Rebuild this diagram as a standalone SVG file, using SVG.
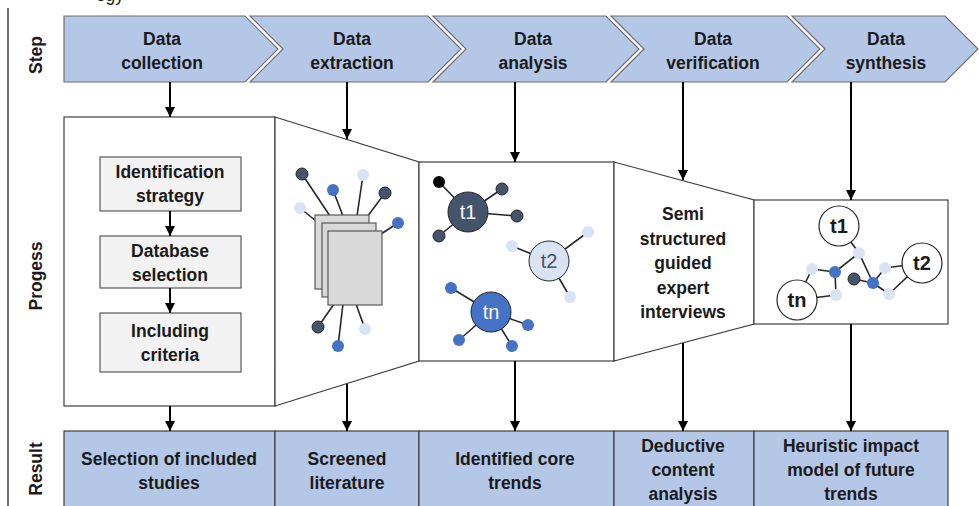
<svg xmlns="http://www.w3.org/2000/svg" width="979" height="506" viewBox="0 0 979 506">
<defs>
<marker id="ah" viewBox="0 0 10 10" refX="10" refY="5" markerWidth="5" markerHeight="5" orient="auto" markerUnits="strokeWidth">
<path d="M0,0 L10,5 L0,10 Z" fill="#000"/>
</marker>
</defs>
<style>
text{font-family:"Liberation Sans",Arial,sans-serif;font-weight:bold;font-size:17.5px;fill:#1a1a1a;text-anchor:middle}
.chev{fill:#b4c7e7;stroke:#6f6f6f;stroke-width:1.2}
.res{fill:#b4c7e7;stroke:#404040;stroke-width:1.2}
.panel{fill:#fff;stroke:#404040;stroke-width:1.2}
.box{fill:#f2f2f2;stroke:#595959;stroke-width:1.2}
.doc{fill:#d9d9d9;stroke:#595959;stroke-width:1.2}
.arr{stroke:#000;stroke-width:2;fill:none;marker-end:url(#ah)}
.ln{stroke:#262626;stroke-width:1.6}
.dk{fill:#44546a;stroke:#262626;stroke-width:1}
.bl{fill:#4472c4}
.lt{fill:#dae3f3}
.side{font-size:17.5px}
.tl{font-size:20px}
</style>
<rect width="979" height="506" fill="#fff"/>
<text x="110" y="1" style="font-weight:normal">ogy</text>
<line x1="8" y1="8" x2="8" y2="506" stroke="#404040" stroke-width="1.5"/>
<text class="side" transform="translate(42,55) rotate(-90)">Step</text>
<text class="side" transform="translate(42,276) rotate(-90)">Progess</text>
<text class="side" transform="translate(42,469) rotate(-90)">Result</text>

<g id="step-collection">
<path class="chev" d="M64,16 L245,16 L278,49 L245,82 L64,82 Z"/>
<text x="162" y="45">Data</text><text x="162" y="69">collection</text>
</g>
<g id="step-extraction">
<path class="chev" d="M250,16 L428,16 L461,49 L428,82 L250,82 L283,49 Z"/>
<text x="352" y="45">Data</text><text x="352" y="69">extraction</text>
</g>
<g id="step-analysis">
<path class="chev" d="M433,16 L606,16 L639,49 L606,82 L433,82 L466,49 Z"/>
<text x="533" y="45">Data</text><text x="533" y="69">analysis</text>
</g>
<g id="step-verification">
<path class="chev" d="M611,16 L787,16 L820,49 L787,82 L611,82 L644,49 Z"/>
<text x="713" y="45">Data</text><text x="713" y="69">verification</text>
</g>
<g id="step-synthesis">
<path class="chev" d="M792,16 L945,16 L978,49 L945,82 L792,82 L825,49 Z"/>
<text x="886" y="45">Data</text><text x="886" y="69">synthesis</text>
</g>

<g id="progress-collection">
<rect class="panel" x="64" y="117" width="211" height="289"/>
<rect class="box" x="100" y="157" width="141" height="54"/>
<text x="170" y="178">Identification</text><text x="170" y="202">strategy</text>
<rect class="box" x="100" y="236" width="141" height="52"/>
<text x="170" y="257">Database</text><text x="170" y="281">selection</text>
<rect class="box" x="100" y="313" width="141" height="59"/>
<text x="170" y="337">Including</text><text x="170" y="361">criteria</text>
<line class="arr" x1="170" y1="211" x2="170" y2="236"/>
<line class="arr" x1="170" y1="288" x2="170" y2="313"/>
</g>

<g id="progress-extraction">
<path class="panel" d="M275,117 L419,162 L419,361 L275,406 Z"/>
<g class="ln">
<line x1="302" y1="174" x2="330" y2="216"/>
<line x1="333" y1="190" x2="343" y2="216"/>
<line x1="363" y1="175" x2="357" y2="216"/>
<line x1="385" y1="193" x2="367" y2="217"/>
<line x1="300" y1="208" x2="316" y2="221"/>
<line x1="398" y1="223" x2="381" y2="234"/>
<line x1="318" y1="327" x2="334" y2="304"/>
<line x1="338" y1="346" x2="343" y2="304"/>
<line x1="365" y1="329" x2="356" y2="304"/>
</g>
<rect class="doc" x="315" y="215" width="54" height="74"/>
<rect class="doc" x="322" y="223" width="54" height="74"/>
<rect class="doc" x="328" y="231" width="54" height="74"/>
<circle class="dk" cx="302" cy="174" r="6"/>
<circle class="bl" cx="333" cy="190" r="6"/>
<circle class="lt" cx="363" cy="175" r="6"/>
<circle class="dk" cx="385" cy="193" r="6"/>
<circle class="lt" cx="300" cy="208" r="6"/>
<circle class="bl" cx="398" cy="223" r="6"/>
<circle class="dk" cx="318" cy="327" r="6"/>
<circle class="bl" cx="338" cy="346" r="6"/>
<circle class="lt" cx="365" cy="329" r="6"/>
</g>

<g id="progress-analysis">
<rect class="panel" x="419" y="162" width="195" height="199"/>
<g class="ln">
<line x1="439" y1="182" x2="468" y2="212"/>
<line x1="502" y1="189" x2="468" y2="212"/>
<line x1="517" y1="216" x2="468" y2="212"/>
<line x1="439" y1="236" x2="468" y2="212"/>
<line x1="588" y1="232" x2="549" y2="261"/>
<line x1="512" y1="246" x2="549" y2="261"/>
<line x1="570" y1="297" x2="549" y2="261"/>
<line x1="451" y1="288" x2="491" y2="312"/>
<line x1="528" y1="325" x2="491" y2="312"/>
<line x1="459" y1="340" x2="491" y2="312"/>
<line x1="512" y1="346" x2="491" y2="312"/>
</g>
<circle cx="439" cy="182" r="6" fill="#000"/>
<circle class="dk" cx="502" cy="189" r="6"/>
<circle class="dk" cx="517" cy="216" r="6"/>
<circle class="dk" cx="439" cy="236" r="6"/>
<circle class="dk" cx="468" cy="212" r="20"/>
<text class="tl" x="468" y="219" style="fill:#fff;font-weight:normal">t1</text>
<circle class="lt" cx="588" cy="232" r="6"/>
<circle class="lt" cx="512" cy="246" r="6"/>
<circle class="lt" cx="570" cy="297" r="6"/>
<circle cx="549" cy="261" r="20" fill="#dae3f3" stroke="#262626" stroke-width="1"/>
<text class="tl" x="549" y="268" style="fill:#44546a;font-weight:normal">t2</text>
<circle class="bl" cx="451" cy="288" r="6"/>
<circle class="bl" cx="528" cy="325" r="6"/>
<circle class="bl" cx="459" cy="340" r="6"/>
<circle class="bl" cx="512" cy="346" r="6"/>
<circle cx="491" cy="312" r="20" fill="#4472c4" stroke="#262626" stroke-width="1"/>
<text class="tl" x="491" y="319" style="fill:#fff;font-weight:normal">tn</text>
</g>

<g id="progress-verification">
<path class="panel" d="M614,162 L754,200 L754,324 L614,361 Z"/>
<text x="683" y="220">Semi</text>
<text x="683" y="244.5">structured</text>
<text x="683" y="269">guided</text>
<text x="683" y="293.5">expert</text>
<text x="683" y="318">interviews</text>
</g>

<g id="progress-synthesis">
<rect class="panel" x="754" y="200" width="194" height="124"/>
<g class="ln">
<line x1="839" y1="226" x2="859" y2="253"/>
<line x1="859" y1="253" x2="835" y2="272"/>
<line x1="859" y1="253" x2="873" y2="283"/>
<line x1="797" y1="300" x2="812" y2="269"/>
<line x1="812" y1="269" x2="835" y2="272"/>
<line x1="835" y1="272" x2="836" y2="295"/>
<line x1="797" y1="300" x2="836" y2="295"/>
<line x1="854" y1="279" x2="873" y2="283"/>
<line x1="873" y1="283" x2="889" y2="294"/>
<line x1="889" y1="294" x2="922" y2="263"/>
<line x1="885" y1="268" x2="922" y2="263"/>
<line x1="873" y1="283" x2="885" y2="268"/>
</g>
<circle cx="839" cy="226" r="20" fill="#fff" stroke="#262626" stroke-width="1.2"/>
<text class="tl" x="839" y="233">t1</text>
<circle cx="922" cy="263" r="20" fill="#fff" stroke="#262626" stroke-width="1.2"/>
<text class="tl" x="922" y="270">t2</text>
<circle cx="797" cy="300" r="20" fill="#fff" stroke="#262626" stroke-width="1.2"/>
<text class="tl" x="797" y="307">tn</text>
<circle class="lt" cx="859" cy="253" r="6"/>
<circle class="lt" cx="812" cy="269" r="6"/>
<circle class="bl" cx="835" cy="272" r="6"/>
<circle class="dk" cx="854" cy="279" r="6"/>
<circle class="bl" cx="873" cy="283" r="6"/>
<circle class="lt" cx="885" cy="268" r="6"/>
<circle class="lt" cx="889" cy="294" r="6"/>
<circle class="lt" cx="836" cy="295" r="6"/>
</g>

<g id="result-collection">
<rect class="res" x="64" y="431" width="211" height="80"/>
<text x="169" y="465">Selection of included</text><text x="169" y="489">studies</text>
</g>
<g id="result-extraction">
<rect class="res" x="275" y="431" width="144" height="80"/>
<text x="347" y="465">Screened</text><text x="347" y="489">literature</text>
</g>
<g id="result-analysis">
<rect class="res" x="419" y="431" width="195" height="80"/>
<text x="515" y="465">Identified core</text><text x="515" y="489">trends</text>
</g>
<g id="result-verification">
<rect class="res" x="614" y="431" width="140" height="80"/>
<text x="683" y="452">Deductive</text><text x="683" y="476">content</text><text x="683" y="500">analysis</text>
</g>
<g id="result-synthesis">
<rect class="res" x="754" y="431" width="194" height="80"/>
<text x="851" y="452">Heuristic impact</text><text x="851" y="476">model of future</text><text x="851" y="500">trends</text>
</g>

<g id="connectors">
<line class="arr" x1="170" y1="82" x2="170" y2="117"/>
<line class="arr" x1="347" y1="82" x2="347" y2="139"/>
<line class="arr" x1="515" y1="82" x2="515" y2="162"/>
<line class="arr" x1="683" y1="82" x2="683" y2="180"/>
<line class="arr" x1="851" y1="82" x2="851" y2="200"/>
<line class="arr" x1="170" y1="406" x2="170" y2="431"/>
<line class="arr" x1="347" y1="384" x2="347" y2="431"/>
<line class="arr" x1="515" y1="361" x2="515" y2="431"/>
<line class="arr" x1="683" y1="343" x2="683" y2="431"/>
<line class="arr" x1="851" y1="324" x2="851" y2="431"/>
</g>
</svg>
